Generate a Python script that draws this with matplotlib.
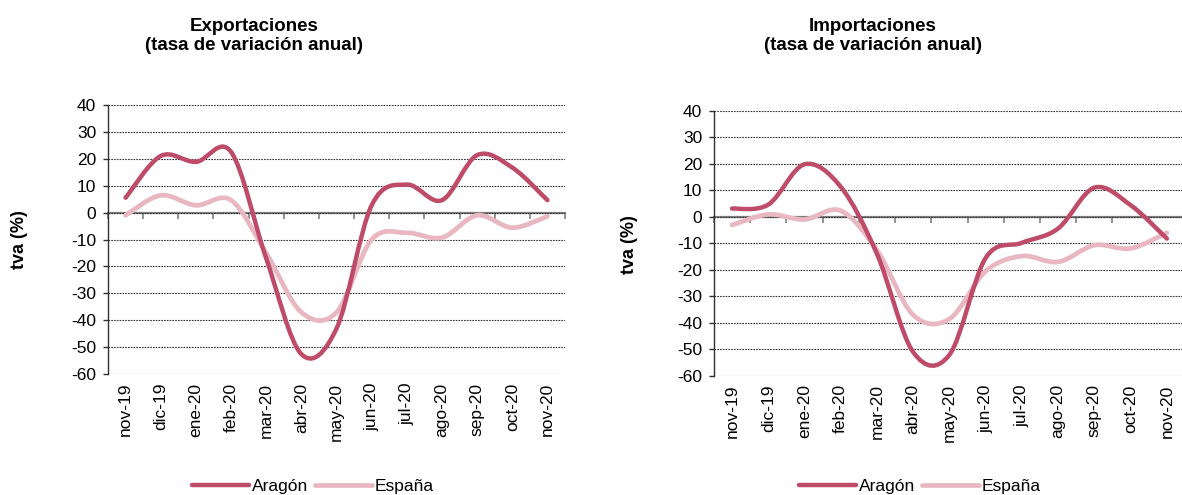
import numpy as np
import matplotlib.pyplot as plt
from matplotlib.path import Path
from matplotlib.patches import PathPatch
from matplotlib.lines import Line2D

plt.rcParams['font.family'] = ['Liberation Sans', 'DejaVu Sans']
plt.rcParams['axes.unicode_minus'] = False

meses = ['nov-19', 'dic-19', 'ene-20', 'feb-20', 'mar-20', 'abr-20', 'may-20',
         'jun-20', 'jul-20', 'ago-20', 'sep-20', 'oct-20', 'nov-20']

# Exportaciones (tva %)
export_aragon = [5.5, 21.0, 18.8, 22.5, -17.0, -52.5, -43.0, 2.7, 10.4, 4.6, 21.3, 16.7, 4.6]
export_espana = [-1.0, 6.4, 2.7, 4.6, -15.0, -37.0, -37.0, -10.0, -7.5, -9.3, -1.0, -5.6, -1.4]

# Importaciones (tva %)
import_aragon = [3.1, 4.6, 19.8, 11.3, -14.0, -51.0, -52.0, -15.5, -9.8, -4.4, 11.0, 4.4, -8.2]
import_espana = [-3.1, 0.9, -1.0, 2.3, -12.6, -37.0, -38.5, -20.5, -14.8, -17.0, -10.7, -11.9, -6.0]

titulos = ['Exportaciones\n(tasa de variación anual)', 'Importaciones\n(tasa de variación anual)']

COL_ARAGON = '#BE4B68'
COL_ESPANA = '#E8B7C2'


def smooth_path(y):
    # linea suavizada estilo Excel (Catmull-Rom pasado a Bezier)
    pts = np.column_stack([np.arange(len(y), dtype=float), np.asarray(y, dtype=float)])
    n = len(pts)
    verts = [pts[0]]
    codes = [Path.MOVETO]
    for i in range(n - 1):
        p0 = pts[max(i - 1, 0)]
        p1 = pts[i]
        p2 = pts[i + 1]
        p3 = pts[min(i + 2, n - 1)]
        verts += [p1 + (p2 - p0) / 6, p2 - (p3 - p1) / 6, p2]
        codes += [Path.CURVE4] * 3
    return Path(verts, codes)


def draw_panel(ax, aragon, espana):
    ax.set_xlim(-0.5, len(meses) - 0.5)
    ax.set_ylim(-60, 40)
    ax.set_yticks(range(-60, 41, 10))
    ax.yaxis.grid(True, linestyle=(0, (1.5, 1)), color='#333333', linewidth=0.8)
    ax.set_axisbelow(True)
    for s in ['top', 'right', 'bottom']:
        ax.spines[s].set_visible(False)
    ax.spines['left'].set_color('#303030')
    ax.spines['left'].set_linewidth(1.0)
    ax.tick_params(axis='y', length=3.5, width=1.0, color='#303030', labelsize=12.5, pad=5)
    ax.set_xticks(range(len(meses)))
    ax.set_xticklabels(meses, rotation=90)
    ax.tick_params(axis='x', length=0, labelsize=12.5, pad=6)

    # eje horizontal en el cero con marcas entre categorias
    zero = ax.secondary_xaxis(0.6)
    zero.set_alignment('bottom')
    zero.set_xticks(np.arange(len(meses) + 1) - 0.5)
    zero.set_xticklabels([])
    zero.tick_params(axis='x', direction='out', length=4, width=1.2, color='#808080')
    zero.spines['bottom'].set_color('#808080')
    zero.spines['bottom'].set_linewidth(1.6)

    ax.add_patch(PathPatch(smooth_path(espana), fill=False, edgecolor=COL_ESPANA,
                           linewidth=3.4, capstyle='round', zorder=3))
    ax.add_patch(PathPatch(smooth_path(aragon), fill=False, edgecolor=COL_ARAGON,
                           linewidth=3.2, capstyle='round', zorder=4))


fig = plt.figure(figsize=(11.82, 4.95), dpi=100)
ax1 = fig.add_axes([0.0914, 0.2438, 0.3866, 0.5446])
ax2 = fig.add_axes([0.604, 0.2404, 0.3985, 0.536])

draw_panel(ax1, export_aragon, export_espana)
draw_panel(ax2, import_aragon, import_espana)

fig.text(254 / 1182, 1 - 36 / 495, titulos[0], ha='center', va='center',
         fontsize=13.5, fontweight='bold', linespacing=1.2)
fig.text(873 / 1182, 1 - 36 / 495, titulos[1], ha='center', va='center',
         fontsize=13.5, fontweight='bold', linespacing=1.2)

fig.text(20 / 1182, 1 - 240 / 495, 'tva (%)', rotation=90, ha='center', va='center',
         fontsize=13, fontweight='bold')
fig.text(630 / 1182, 1 - 245 / 495, 'tva (%)', rotation=90, ha='center', va='center',
         fontsize=13, fontweight='bold')

handles = [Line2D([], [], color=COL_ARAGON, linewidth=3.2, solid_capstyle='round'),
           Line2D([], [], color=COL_ESPANA, linewidth=3.4, solid_capstyle='round')]
for cx in [313 / 1182, 920 / 1182]:
    fig.legend(handles, ['Aragón', 'España'], loc='center', bbox_to_anchor=(cx, 1 - 486 / 495),
               ncol=2, frameon=False, fontsize=12.5, handlelength=3.3, handletextpad=0.15,
               columnspacing=0.4, borderpad=0)

fig.savefig('out.png', dpi=100)
